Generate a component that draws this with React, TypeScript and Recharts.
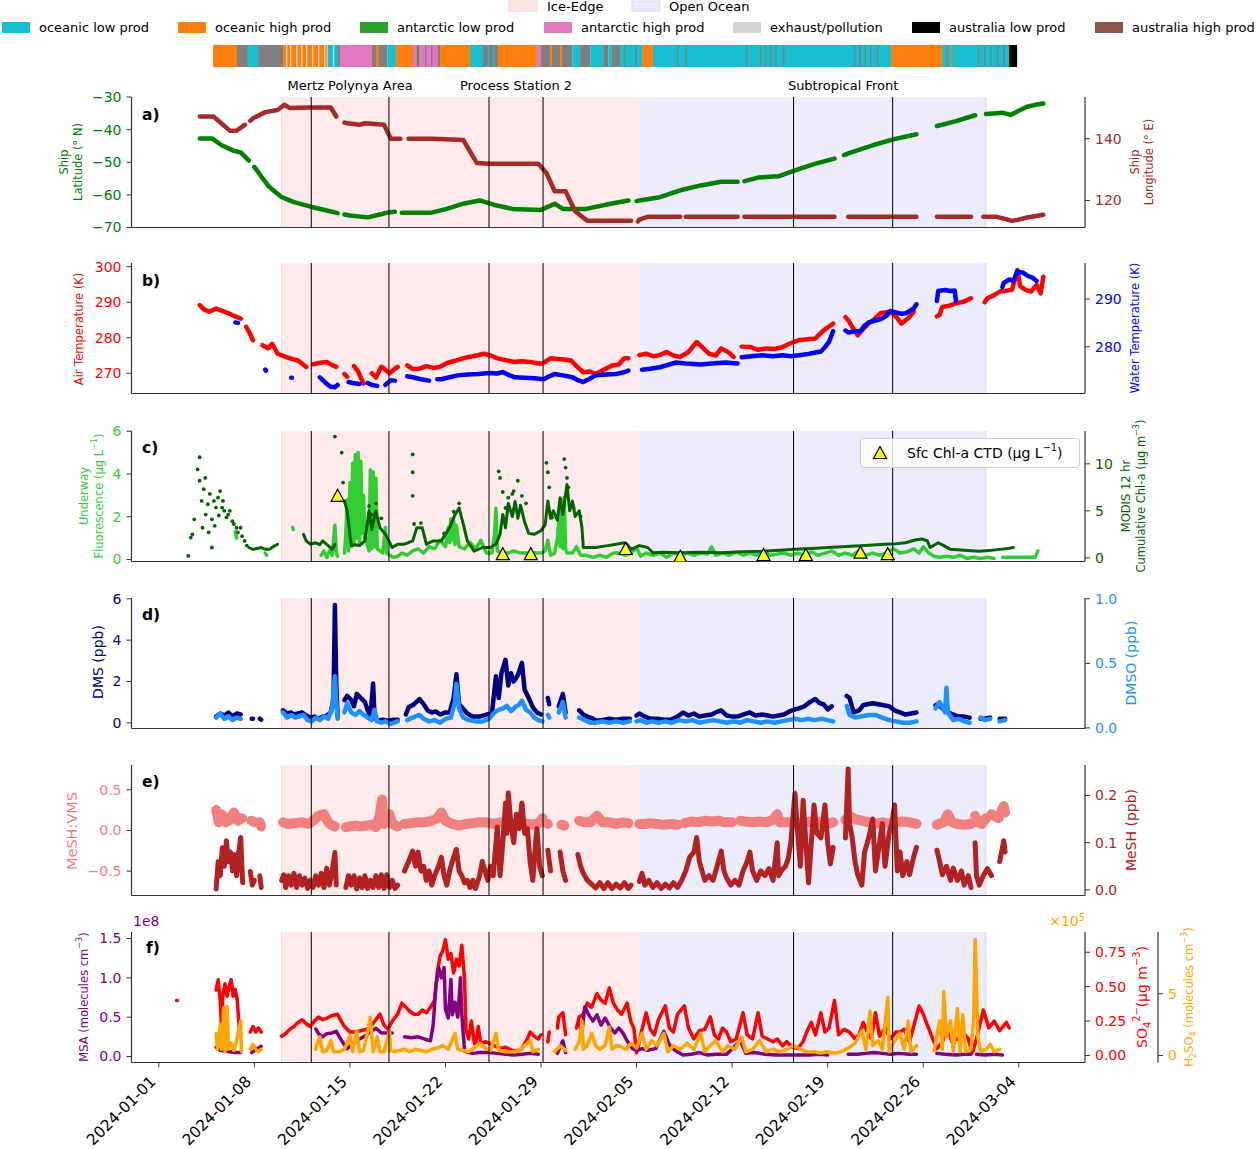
import { ComposedChart, Line, Scatter, XAxis, YAxis, ReferenceArea, ReferenceLine } from "recharts";

const FONT = "'DejaVu Sans', sans-serif";
const W = 1259;
const H = 1149;
const SPINE = "#333333";

// x values are days since 2024-01-01
const X_DOMAIN: [number, number] = [-2.0, 67.85];
const DATE_TICKS = [0, 7, 14, 21, 28, 35, 42, 49, 56, 63];
const DATE_LABELS = ["2024-01-01", "2024-01-08", "2024-01-15", "2024-01-22", "2024-01-29", "2024-02-05", "2024-02-12", "2024-02-19", "2024-02-26", "2024-03-04"];

const ICE_EDGE: [number, number] = [8.98, 35.18];
const OPEN_OCEAN: [number, number] = [35.18, 60.59];
const SECTION_LINES = [11.17, 16.86, 24.19, 28.15, 46.5, 53.76];
const SECTION_NAMES = ["Mertz Polynya Area", "Process Station 2", "Subtropical Front"];

const AIR_MASS = ["oceanic low prod", "oceanic high prod", "antarctic low prod", "antarctic high prod", "exhaust/pollution", "australia low prod", "australia high prod"];
const AIR_MASS_COLORS = ["#17becf", "#ff7f0e", "#2ca02c", "#e377c2", "#d3d3d3", "#000000", "#8c564b", "#7f7f7f"];

// air-mass strip: [start day, end day, category]
const STRIP: [number, number, number][] = [
  [3.97, 5.73, 1], [5.73, 6.53, 7], [6.53, 7.27, 0], [7.27, 9.1, 7], [9.1, 12.4, 1],
  [12.4, 13.13, 0], [13.13, 13.28, 7], [13.28, 15.62, 3], [15.62, 16.76, 7], [16.76, 17.38, 0],
  [17.38, 18.62, 1], [18.62, 20.45, 3], [20.45, 20.6, 7], [20.6, 22.8, 1], [22.8, 23.75, 0],
  [23.75, 24.85, 7], [24.85, 27.7, 1], [27.7, 28.0, 3], [28.0, 30.28, 7], [30.28, 30.86, 0],
  [30.86, 31.6, 7], [31.6, 32.55, 0], [32.55, 32.92, 7], [32.92, 33.2, 0], [33.2, 33.79, 7],
  [33.79, 35.4, 0], [35.4, 36.2, 1], [36.2, 53.64, 0], [53.64, 57.38, 1], [57.38, 62.29, 0],
  [62.29, 62.88, 5],
];
// thin stripes drawn over the strip
const STRIP_STRIPES: [number, number, number][] = [
  [9.32, 9.42, 4], [9.61, 9.71, 4], [10.05, 10.15, 4], [10.42, 10.52, 4], [10.78, 10.88, 4],
  [11.22, 11.32, 4], [11.66, 11.76, 4], [12.1, 12.2, 4], [12.3, 12.38, 4], [12.75, 12.85, 4],
  [15.9, 16.1, 1], [18.91, 19.05, 2], [19.5, 19.6, 7], [19.94, 20.04, 7], [24.1, 24.2, 0],
  [24.5, 24.6, 0], [28.65, 28.8, 1], [29.4, 29.55, 1], [34.1, 34.2, 7], [34.9, 35.0, 7],
  [37.96, 38.06, 7], [38.55, 38.65, 7], [43.02, 43.12, 7], [44.05, 44.15, 7], [44.4, 44.5, 7],
  [44.78, 44.88, 7], [45.15, 45.25, 7], [45.73, 45.83, 7], [50.94, 51.04, 7], [51.3, 51.4, 7],
  [51.7, 51.8, 7], [52.1, 52.2, 7], [52.6, 52.7, 7], [57.68, 57.78, 7], [57.97, 58.07, 1],
  [60.0, 60.1, 7], [60.45, 60.55, 7], [60.9, 61.0, 7], [61.4, 61.5, 7], [61.85, 61.95, 7],
];

type Pt = [number, number | null];

// a) ship position
const LAT: Pt[] = [[3.0,-42.7],[3.9,-42.7],[4.6,-44.8],[5.5,-46.5],[6.0,-47.0],[6.6,-49.5],[6.75,null],[7.0,-51.4],[7.5,-54.3],[8.1,-57.6],[9.0,-60.7],[9.9,-62.2],[11.2,-63.7],[12.3,-64.8],[13.1,-65.6],[13.3,null],[13.6,-66.0],[14.0,-66.3],[15.3,-66.9],[16.2,-66.0],[16.9,-65.3],[17.3,-65.2],[17.45,null],[17.8,-65.5],[19.9,-65.5],[21.1,-64.3],[22.3,-62.7],[23.5,-61.7],[24.7,-63.2],[25.9,-64.3],[28.0,-64.6],[29.0,-62.7],[29.6,-64.3],[31.3,-64.3],[33.1,-62.7],[34.4,-61.7],[34.6,null],[35.0,-61.9],[35.2,-61.7],[36.7,-60.7],[38.2,-58.6],[39.7,-57.1],[41.2,-56.0],[42.4,-56.0],[42.6,null],[42.9,-55.8],[43.9,-54.7],[45.4,-54.3],[46.6,-52.5],[48.1,-50.4],[49.5,-48.9],[49.7,null],[50.2,-47.8],[50.5,-47.3],[52.3,-44.8],[53.8,-43.0],[55.5,-41.4],[55.7,null],[57.0,-38.9],[58.4,-37.4],[59.8,-35.6],[60.0,null],[60.6,-35.2],[61.8,-34.8],[62.4,-35.5],[63.0,-34.2],[63.6,-33.0],[64.2,-32.4],[64.8,-32.0]];
const LON: Pt[] = [[3.0,147.2],[4.0,147.2],[5.2,142.6],[5.7,142.6],[6.3,144.5],[6.45,null],[6.7,145.8],[6.9,146.6],[7.8,148.6],[8.7,149.3],[9.2,151.0],[9.6,149.9],[11.1,150.1],[12.6,150.1],[13.0,147.2],[13.2,null],[13.6,145.2],[13.8,145.0],[14.7,144.5],[15.1,145.0],[16.5,144.5],[17.0,140.0],[17.7,140.0],[17.9,null],[18.3,140.0],[20.0,140.0],[22.3,139.6],[23.3,132.1],[24.2,131.9],[27.8,131.9],[28.4,128.9],[29.0,123.0],[29.8,123.0],[30.5,116.5],[31.4,113.4],[34.6,113.4],[34.8,null],[35.1,113.2],[35.2,113.8],[35.8,114.7],[38.2,114.7],[38.4,null],[38.6,114.7],[42.4,114.7],[42.6,null],[42.9,114.7],[49.5,114.7],[49.7,null],[50.5,114.7],[55.5,114.7],[55.7,null],[57.0,114.7],[59.5,114.7],[59.7,null],[60.4,114.7],[61.4,114.7],[62.0,114.0],[62.5,113.4],[63.0,113.8],[63.6,114.5],[64.8,115.4]];

// b) temperatures (K)
const AIR_T: Pt[] = [[3.0,289.2],[3.3,288.0],[3.7,287.3],[4.2,288.2],[4.7,287.5],[5.1,286.9],[5.6,286.0],[6.0,285.4],[6.2,null],[6.4,283.1],[6.7,281.0],[6.9,279.3],[7.1,null],[7.6,277.9],[8.0,277.0],[8.3,278.3],[8.7,275.5],[9.3,274.6],[9.8,274.0],[10.2,273.6],[10.8,271.8],[11.0,null],[11.3,272.5],[11.7,272.9],[12.3,273.2],[12.7,272.3],[13.0,271.8],[13.2,null],[13.6,269.8],[13.8,269.0],[14.0,null],[14.3,272.0],[14.6,270.5],[15.0,267.1],[15.2,null],[15.6,270.0],[15.9,268.8],[16.3,271.8],[16.6,271.0],[16.9,270.0],[17.2,271.0],[17.5,271.8],[17.7,null],[18.2,272.2],[18.6,271.2],[19.1,271.3],[19.6,272.0],[20.1,271.5],[20.6,271.8],[21.2,273.0],[21.8,273.6],[22.3,274.2],[22.7,274.6],[23.3,275.0],[23.8,275.5],[24.3,275.0],[24.8,274.2],[25.4,273.7],[26.0,273.2],[26.6,273.4],[27.2,273.2],[27.7,272.8],[28.1,272.7],[28.7,274.2],[29.2,274.0],[29.7,273.9],[30.2,273.6],[30.6,272.0],[31.1,270.3],[31.6,270.5],[32.0,269.8],[32.6,271.0],[33.2,272.2],[33.7,272.5],[34.1,274.2],[34.4,274.2],[34.7,null],[35.2,275.1],[35.7,275.5],[36.2,274.8],[36.7,275.1],[37.2,276.0],[37.7,275.0],[38.2,274.6],[38.8,276.0],[39.4,278.8],[39.9,277.0],[40.3,275.5],[40.8,275.0],[41.2,277.0],[41.7,276.0],[42.1,274.6],[42.4,null],[42.7,277.5],[43.3,277.4],[43.9,276.6],[44.5,277.0],[45.1,276.8],[45.7,277.4],[46.3,278.5],[46.9,279.3],[47.5,279.6],[48.1,279.8],[48.7,282.1],[49.4,284.0],[49.6,null],[50.3,285.8],[50.5,285.0],[50.8,283.0],[51.2,280.7],[51.6,282.5],[52.0,284.0],[52.5,285.5],[52.9,287.0],[53.6,287.3],[54.0,286.0],[54.4,284.0],[54.9,285.5],[55.3,287.3],[55.6,null],[57.0,286.0],[57.2,286.5],[57.4,288.7],[57.9,289.0],[58.3,289.6],[59.0,290.2],[59.5,291.1],[59.7,null],[60.5,290.0],[60.7,291.1],[61.2,292.0],[61.6,293.0],[62.0,293.2],[62.5,293.5],[62.9,299.1],[63.1,294.5],[63.5,293.5],[63.9,293.0],[64.3,294.9],[64.6,292.5],[64.8,297.2]];
const WATER_T: Pt[] = [[5.6,285.1],[5.8,285.0],[5.9,null],[7.8,275.2],[7.85,275.0],[7.9,null],[9.7,273.5],[9.75,273.5],[9.8,null],[11.8,273.6],[12.3,272.2],[12.6,271.6],[12.9,271.5],[13.1,272.0],[13.3,null],[13.9,272.6],[14.2,272.4],[14.7,272.2],[15.0,null],[15.3,272.4],[15.6,272.0],[16.0,271.8],[16.2,null],[16.6,272.0],[17.0,273.0],[17.3,272.9],[17.6,null],[18.2,273.8],[18.6,273.6],[19.2,273.2],[19.8,272.9],[20.2,null],[20.4,273.2],[20.7,273.2],[21.3,273.6],[21.9,274.0],[22.6,274.2],[23.4,274.3],[24.2,274.5],[24.8,274.4],[25.2,274.7],[25.7,274.0],[26.1,273.6],[26.8,273.5],[27.5,273.4],[28.2,273.2],[28.6,273.8],[29.0,274.3],[29.6,274.0],[30.3,273.6],[30.7,273.0],[31.1,272.6],[31.5,273.2],[32.0,274.0],[32.8,274.2],[33.5,274.3],[34.0,274.6],[34.4,275.0],[34.6,null],[35.4,275.2],[36.0,275.4],[36.7,275.7],[37.3,276.2],[37.9,276.7],[38.6,276.5],[39.7,276.3],[40.5,276.5],[41.5,276.7],[42.4,276.5],[42.55,null],[42.7,277.8],[43.4,278.0],[44.2,278.2],[45.0,278.0],[45.7,278.2],[46.3,278.0],[46.9,278.2],[47.6,278.5],[48.1,278.8],[48.5,279.0],[48.8,279.9],[49.1,281.0],[49.4,283.3],[49.6,null],[50.3,283.4],[50.5,283.0],[51.0,283.2],[51.4,283.3],[51.7,284.4],[52.0,285.1],[52.5,285.5],[52.9,285.8],[53.3,286.5],[53.6,287.5],[54.0,287.2],[54.4,286.9],[54.7,287.0],[55.0,287.5],[55.3,288.0],[55.5,288.9],[55.6,null],[57.0,289.6],[57.1,291.7],[57.6,291.9],[58.0,291.7],[58.3,291.8],[58.4,289.6],[58.6,null],[61.8,292.5],[61.9,293.4],[62.3,294.1],[62.6,293.8],[62.9,295.8],[63.3,295.5],[63.7,294.8],[64.0,294.5],[64.3,293.8]];

// c) chlorophyll
const UNDERWAY_FLUOR: Pt[] = [[5.6,1.3],[5.7,1.0],[5.75,null],[7.8,0.3],[7.9,0.2],[7.95,null],[9.8,1.5],[9.85,1.4],[9.9,null],[11.9,0.2],[12.1,0.4],[12.3,0.1],[12.5,0.4],[12.7,0.2],[12.9,1.6],[13.0,0.3],[13.1,0.15],[13.2,null],[13.6,0.3],[13.7,1.2],[13.8,2.8],[13.9,0.4],[14.0,3.6],[14.1,0.6],[14.2,4.5],[14.3,0.8],[14.4,4.9],[14.5,1.0],[14.6,5.0],[14.7,0.7],[14.8,4.6],[14.9,1.2],[15.0,3.0],[15.1,0.9],[15.2,1.0],[15.3,0.6],[15.4,0.4],[15.5,4.2],[15.6,0.5],[15.7,4.1],[15.8,0.6],[15.9,3.8],[16.0,0.5],[16.2,0.4],[16.4,0.3],[16.6,1.5],[16.7,0.3],[16.9,0.2],[17.2,0.1],[17.5,0.15],[17.8,0.3],[18.2,0.2],[18.6,0.4],[19.0,0.5],[19.4,0.3],[19.8,0.6],[20.2,0.5],[20.6,0.9],[21.0,0.6],[21.2,1.5],[21.3,0.8],[21.4,1.9],[21.5,0.9],[21.6,1.8],[21.7,0.7],[21.8,1.6],[22.0,0.6],[22.4,0.5],[22.8,0.8],[23.2,0.5],[23.6,0.9],[24.0,0.3],[24.4,0.3],[24.6,1.2],[24.7,2.4],[24.8,0.4],[25.2,0.3],[25.6,0.3],[26.0,0.4],[26.5,0.3],[27.0,0.3],[27.5,0.3],[28.0,0.3],[28.3,0.4],[28.5,0.9],[28.7,0.2],[29.0,0.3],[29.2,1.0],[29.3,1.8],[29.4,0.6],[29.5,2.8],[29.6,0.5],[29.7,2.9],[29.8,0.5],[29.9,0.3],[30.3,0.3],[30.6,0.6],[30.9,0.2],[31.3,0.2],[31.8,0.1],[32.3,0.2],[32.8,0.1],[33.3,0.3],[33.7,0.3],[34.2,0.2],[34.6,0.3],[35.0,0.55],[35.3,0.15],[35.7,0.3],[36.2,0.2],[36.7,0.3],[37.2,0.1],[37.7,0.3],[38.2,0.2],[38.7,0.3],[39.2,0.2],[39.7,0.3],[40.2,0.25],[40.5,0.6],[40.8,0.2],[41.3,0.3],[41.8,0.2],[42.3,0.35],[42.8,0.2],[43.3,0.3],[43.8,0.2],[44.3,0.3],[44.8,0.2],[45.3,0.25],[45.8,0.3],[46.3,0.2],[46.8,0.3],[47.3,0.2],[47.8,0.35],[48.3,0.2],[48.8,0.3],[49.3,0.4],[49.8,0.2],[50.3,0.3],[50.8,0.2],[51.3,0.4],[51.8,0.2],[52.3,0.3],[52.8,0.2],[53.3,0.3],[53.8,0.5],[54.3,0.3],[54.8,0.35],[55.3,0.5],[55.7,0.3],[56.0,0.6],[56.4,0.3],[56.8,0.15],[57.2,0.1],[57.7,0.15],[58.2,0.1],[58.7,0.2],[59.2,0.05],[59.7,0.1],[60.2,0.05],[60.7,0.1],[61.2,0.05],[61.4,null],[61.8,0.1],[62.4,0.1],[63.0,0.1],[63.6,0.1],[64.2,0.1],[64.4,0.4]];
const MODIS_CHL: Pt[] = [[6.6,1.1],[6.9,0.9],[7.2,1.0],[7.5,1.1],[7.8,0.9],[8.1,0.9],[8.4,1.2],[8.7,1.45],[8.8,null],[10.6,2.5],[10.8,1.8],[11.1,1.45],[11.5,1.6],[11.8,1.4],[12.0,1.8],[12.4,1.3],[12.7,0.9],[12.9,1.4],[13.1,null],[13.6,6.05],[13.8,5.0],[14.1,1.3],[14.4,1.4],[14.7,1.3],[15.1,1.8],[15.4,5.0],[15.6,3.0],[15.9,5.0],[16.2,3.2],[16.6,2.5],[17.1,1.1],[17.5,1.45],[18.0,1.45],[18.6,1.8],[18.9,3.2],[19.3,3.2],[19.6,1.45],[20.1,1.8],[20.7,1.8],[21.3,3.2],[21.7,4.6],[22.0,5.3],[22.3,3.6],[22.6,1.8],[23.1,0.7],[23.7,1.1],[24.3,1.1],[24.7,1.45],[25.0,2.5],[25.2,4.6],[25.4,3.2],[25.6,5.8],[25.9,4.4],[26.1,6.0],[26.3,4.2],[26.5,5.6],[26.8,3.8],[27.1,2.6],[27.5,2.5],[28.0,2.9],[28.3,3.5],[28.5,6.05],[28.7,4.2],[28.9,5.0],[29.2,4.0],[29.4,6.4],[29.6,4.6],[29.9,7.8],[30.1,5.0],[30.3,6.05],[30.5,4.4],[30.8,5.0],[31.0,3.2],[31.1,1.1],[32.0,1.1],[32.9,1.3],[33.5,1.45],[34.1,1.6],[34.3,1.45],[34.6,0.9],[35.2,1.3],[35.8,1.1],[36.2,0.55],[37.0,0.6],[38.2,0.55],[39.5,0.6],[41.2,0.55],[42.7,0.65],[44.2,0.7],[45.5,0.8],[46.6,0.9],[47.8,1.0],[49.0,1.1],[50.4,1.2],[51.7,1.3],[53.2,1.45],[54.0,1.5],[54.7,1.6],[55.4,1.9],[55.9,2.0],[56.3,1.8],[56.5,1.1],[57.1,1.6],[57.5,1.3],[58.0,0.9],[59.0,0.8],[60.1,0.7],[61.0,0.8],[61.6,0.9],[62.2,1.0],[62.6,1.1]];
const MODIS_SPARSE: Pt[] = [[2.16,0.2],[2.34,2.15],[2.46,2.5],[2.6,4.1],[2.84,9.4],[2.99,10.7],[2.99,8.2],[3.14,6.05],[3.2,3.2],[3.29,7.3],[3.4,8.5],[3.44,4.6],[3.59,5.7],[3.65,2.7],[3.74,6.8],[3.89,1.1],[3.89,4.1],[4.04,6.05],[4.1,3.4],[4.19,5.35],[4.34,6.4],[4.4,4.5],[4.49,7.1],[4.64,5.35],[4.7,6.05],[4.79,5.0],[4.95,4.3],[5.09,4.6],[5.2,5.0],[5.39,3.9],[5.5,3.6],[5.69,3.2],[5.8,2.7],[5.99,3.2],[6.1,2.3],[6.29,1.8],[6.45,1.3],[12.9,12.9],[13.4,11.2],[13.5,8.0],[15.4,5.5],[15.6,4.6],[15.9,5.8],[16.3,4.2],[18.6,11.0],[18.6,9.1],[18.6,6.6],[18.7,3.6],[19.2,3.7],[20.9,2.6],[21.6,4.9],[22.0,5.8],[24.9,9.2],[25.0,8.5],[25.2,7.0],[25.4,5.3],[25.6,6.4],[25.9,6.8],[26.0,7.1],[26.3,8.2],[26.6,6.6],[26.9,5.8],[28.4,10.1],[28.5,9.1],[28.6,7.5],[28.8,4.3],[29.7,10.5],[29.8,9.6],[29.9,8.5],[30.0,7.5],[30.4,5.3],[30.9,4.4]];
const CTD_CHL: Pt[] = [[13.1,2.98],[25.2,0.25],[27.25,0.25],[34.2,0.49],[38.2,0.13],[44.3,0.21],[47.4,0.21],[51.4,0.32],[53.4,0.25]];

// d) DMS / DMSO (ppb)
const DMS: Pt[] = [[4.2,0.3],[4.5,0.45],[4.8,0.35],[5.1,0.5],[5.4,0.3],[5.7,0.45],[6.0,0.4],[6.1,null],[6.8,0.2],[6.9,0.2],[7.0,null],[7.4,0.2],[7.5,0.15],[7.6,null],[9.1,0.6],[9.4,0.45],[9.7,0.5],[9.9,0.4],[10.2,0.45],[10.5,0.5],[10.8,0.35],[11.1,0.25],[11.4,0.3],[11.7,0.2],[12.0,0.3],[12.3,0.35],[12.6,0.5],[12.8,1.2],[12.9,5.7],[13.0,1.9],[13.1,0.3],[13.3,null],[13.6,1.1],[13.8,1.3],[14.1,1.1],[14.3,0.8],[14.5,1.4],[14.8,1.2],[15.1,1.0],[15.3,0.6],[15.5,0.3],[15.7,1.9],[15.8,0.3],[16.0,0.1],[16.4,0.15],[16.8,0.1],[17.2,0.15],[17.5,0.15],[17.7,null],[18.1,0.4],[18.3,0.75],[18.7,0.9],[19.1,1.15],[19.4,0.9],[19.7,0.6],[20.0,0.5],[20.3,0.55],[20.6,0.4],[21.0,0.5],[21.3,0.5],[21.6,1.2],[21.8,2.35],[22.0,0.9],[22.2,0.75],[22.6,0.45],[23.0,0.3],[23.5,0.3],[24.0,0.4],[24.4,0.45],[24.7,2.25],[24.9,1.2],[25.1,2.4],[25.4,3.05],[25.6,1.8],[25.8,2.4],[26.0,2.0],[26.3,2.3],[26.6,2.9],[26.8,1.6],[27.1,1.2],[27.4,0.75],[27.7,0.5],[28.0,0.4],[28.2,null],[28.5,1.2],[28.6,0.9],[28.7,null],[29.3,0.8],[29.6,1.4],[29.8,0.5],[29.9,null],[30.8,0.6],[31.1,0.4],[31.4,0.3],[31.8,0.2],[32.1,0.1],[32.6,0.15],[33.0,0.2],[33.5,0.15],[34.0,0.2],[34.5,0.2],[34.7,null],[35.0,0.35],[35.2,0.45],[35.6,0.3],[36.0,0.2],[36.5,0.2],[37.0,0.15],[37.5,0.15],[38.0,0.3],[38.4,0.5],[38.8,0.35],[39.2,0.45],[39.6,0.3],[40.0,0.35],[40.5,0.4],[40.8,0.5],[41.2,0.6],[41.6,0.35],[42.0,0.3],[42.4,0.3],[42.8,0.4],[43.3,0.5],[43.7,0.35],[44.2,0.4],[44.6,0.35],[45.0,0.3],[45.4,0.35],[45.8,0.4],[46.2,0.55],[46.6,0.65],[46.9,0.7],[47.3,0.8],[47.7,1.0],[48.1,1.15],[48.4,0.95],[48.7,0.9],[49.0,0.65],[49.3,0.8],[49.5,null],[50.4,1.3],[50.6,1.2],[50.9,0.5],[51.3,0.6],[51.6,0.85],[51.9,0.9],[52.3,0.95],[52.7,0.9],[53.1,0.85],[53.5,0.8],[53.9,0.6],[54.3,0.5],[54.7,0.4],[55.1,0.45],[55.5,0.5],[55.6,null],[56.9,0.85],[57.1,0.9],[57.4,0.7],[57.8,0.5],[58.2,0.4],[58.6,0.3],[59.0,0.3],[59.4,0.25],[59.6,null],[60.2,0.2],[60.5,0.2],[60.9,0.25],[61.1,null],[61.6,0.2],[62.0,0.2]];
const DMSO: Pt[] = [[4.2,0.08],[4.5,0.11],[4.8,0.07],[5.1,0.09],[5.4,0.06],[5.7,0.08],[6.0,0.07],[6.1,null],[9.1,0.12],[9.4,0.08],[9.7,0.1],[10.0,0.08],[10.3,0.09],[10.6,0.1],[10.9,0.06],[11.2,0.05],[11.5,0.08],[11.8,0.06],[12.1,0.09],[12.4,0.07],[12.7,0.15],[12.9,0.4],[13.0,0.2],[13.1,0.07],[13.3,null],[13.6,0.12],[13.8,0.19],[14.1,0.12],[14.4,0.1],[14.7,0.13],[15.0,0.1],[15.3,0.08],[15.6,0.06],[15.8,0.14],[16.0,0.05],[16.3,0.04],[16.6,0.05],[17.0,0.03],[17.5,0.05],[17.7,null],[18.2,0.06],[18.6,0.08],[19.1,0.1],[19.4,0.07],[19.8,0.05],[20.2,0.06],[20.6,0.04],[21.0,0.07],[21.4,0.08],[21.7,0.2],[21.8,0.34],[22.0,0.15],[22.3,0.08],[22.7,0.06],[23.2,0.05],[23.7,0.05],[24.2,0.07],[24.6,0.12],[24.9,0.14],[25.2,0.15],[25.5,0.17],[25.8,0.13],[26.1,0.16],[26.4,0.18],[26.6,0.21],[26.9,0.14],[27.2,0.12],[27.5,0.08],[27.8,0.06],[28.1,0.05],[28.2,null],[28.5,0.1],[28.6,0.08],[28.7,null],[29.3,0.12],[29.6,0.2],[29.8,0.08],[29.9,null],[30.8,0.08],[31.2,0.06],[31.6,0.04],[32.0,0.04],[32.5,0.05],[33.0,0.04],[33.5,0.05],[34.0,0.04],[34.5,0.05],[34.7,null],[35.0,0.05],[35.3,0.06],[35.7,0.04],[36.1,0.05],[36.6,0.04],[37.1,0.05],[37.6,0.04],[38.1,0.06],[38.6,0.05],[39.1,0.06],[39.6,0.04],[40.1,0.05],[40.6,0.06],[41.1,0.05],[41.6,0.04],[42.1,0.05],[42.6,0.04],[43.1,0.06],[43.6,0.05],[44.1,0.04],[44.6,0.05],[45.1,0.04],[45.6,0.05],[46.1,0.06],[46.6,0.07],[47.1,0.06],[47.6,0.07],[48.0,0.06],[48.6,0.07],[49.0,0.06],[49.4,0.05],[49.5,null],[50.4,0.17],[50.6,0.1],[51.0,0.08],[51.5,0.09],[52.0,0.1],[52.5,0.1],[53.0,0.08],[53.5,0.06],[54.0,0.05],[54.5,0.04],[55.0,0.04],[55.5,0.05],[55.6,null],[56.9,0.15],[57.2,0.2],[57.6,0.12],[57.7,0.31],[57.8,0.12],[58.2,0.06],[58.6,0.07],[59.0,0.05],[59.4,0.04],[59.6,null],[60.2,0.08],[60.5,0.06],[60.9,0.07],[61.1,null],[61.6,0.05],[62.0,0.06]];

// e) MeSH:VMS ratio and MeSH (ppb)
const MESH_VMS: Pt[] = [[4.2,0.25],[4.4,0.1],[4.6,0.2],[4.9,0.1],[5.2,0.13],[5.5,0.22],[5.8,0.12],[6.1,0.15],[6.2,null],[6.8,0.12],[7.0,0.1],[7.1,null],[7.4,0.1],[7.5,0.05],[7.6,null],[9.1,0.1],[9.5,0.08],[10.0,0.09],[10.5,0.1],[11.0,0.08],[11.3,0.12],[11.7,0.18],[12.1,0.2],[12.4,0.1],[12.7,0.06],[12.9,0.05],[13.1,null],[13.7,0.04],[14.0,0.05],[14.4,0.06],[14.8,0.05],[15.2,0.06],[15.6,0.07],[15.9,0.04],[16.2,0.2],[16.35,0.38],[16.5,0.08],[16.7,0.1],[16.9,0.2],[17.1,0.08],[17.5,0.05],[17.7,null],[18.0,0.08],[18.5,0.09],[19.0,0.1],[19.5,0.1],[20.0,0.12],[20.4,0.15],[20.7,0.22],[21.0,0.12],[21.5,0.08],[22.0,0.06],[22.5,0.08],[23.0,0.09],[23.5,0.1],[24.0,0.1],[24.5,0.08],[25.0,0.1],[25.5,0.09],[26.0,0.08],[26.5,0.1],[27.0,0.08],[27.5,0.07],[28.0,0.1],[28.1,0.15],[28.3,null],[28.5,0.08],[28.6,null],[29.5,0.07],[29.7,0.06],[29.8,null],[30.8,0.12],[31.2,0.1],[31.6,0.1],[32.1,0.18],[32.5,0.1],[33.0,0.1],[33.5,0.08],[34.0,0.1],[34.4,0.09],[34.6,null],[35.2,0.08],[35.6,0.08],[36.0,0.09],[36.5,0.08],[37.0,0.07],[37.5,0.08],[38.0,0.07],[38.2,null],[38.5,0.09],[39.0,0.11],[39.5,0.1],[40.0,0.12],[40.5,0.11],[41.0,0.12],[41.5,0.1],[42.0,0.1],[42.2,null],[42.6,0.12],[43.0,0.11],[43.5,0.1],[44.0,0.11],[44.5,0.1],[45.0,0.13],[45.3,0.2],[45.5,0.1],[46.0,0.1],[46.5,0.1],[47.0,0.09],[47.5,0.1],[48.0,0.11],[48.5,0.1],[49.0,0.08],[49.4,0.1],[49.6,null],[50.3,0.13],[50.6,0.18],[51.0,0.14],[51.5,0.12],[52.0,0.1],[52.5,0.08],[53.0,0.1],[53.5,0.08],[54.0,0.1],[54.5,0.11],[55.0,0.1],[55.5,0.08],[55.6,null],[57.0,0.07],[57.5,0.1],[57.8,0.2],[58.1,0.1],[58.5,0.08],[59.0,0.07],[59.5,0.08],[59.6,null],[59.8,0.18],[60.0,0.1],[60.3,0.08],[60.6,0.15],[60.7,null],[61.0,0.2],[61.5,0.15],[61.9,0.3],[62.0,0.22]];
const MESH: Pt[] = [[4.2,0.002],[4.35,0.06],[4.5,0.03],[4.65,0.089],[4.8,0.05],[4.95,0.104],[5.1,0.06],[5.25,0.08],[5.4,0.04],[5.55,0.075],[5.7,0.03],[5.85,0.08],[6.0,0.111],[6.1,0.04],[6.15,0.015],[6.2,null],[6.7,0.039],[6.85,0.01],[7.0,0.02],[7.1,null],[7.4,0.03],[7.5,0.005],[7.6,null],[9.0,0.02],[9.15,0.032],[9.3,0.005],[9.5,0.03],[9.7,0.01],[9.9,0.035],[10.1,0.005],[10.3,0.03],[10.5,0.01],[10.7,0.025],[10.9,0.003],[11.1,0.02],[11.3,0.005],[11.5,0.03],[11.7,0.01],[11.9,0.035],[12.1,0.005],[12.3,0.046],[12.5,0.01],[12.7,0.04],[12.9,0.079],[13.0,0.01],[13.1,null],[13.7,0.005],[13.9,0.03],[14.1,0.01],[14.3,0.03],[14.5,0.002],[14.7,0.025],[14.9,0.005],[15.1,0.03],[15.3,0.003],[15.5,0.02],[15.7,0.005],[15.9,0.03],[16.1,0.005],[16.3,0.032],[16.5,0.003],[16.7,0.032],[16.9,0.005],[17.1,0.02],[17.3,0.003],[17.5,0.01],[17.7,null],[18.0,0.04],[18.3,0.06],[18.6,0.082],[18.8,0.05],[19.0,0.08],[19.2,0.04],[19.4,0.05],[19.6,0.02],[19.8,0.04],[20.0,0.01],[20.2,0.03],[20.5,0.05],[20.7,0.069],[20.9,0.03],[21.1,0.01],[21.3,0.04],[21.5,0.06],[21.8,0.086],[22.0,0.04],[22.2,0.03],[22.4,0.015],[22.6,0.02],[22.8,0.005],[23.0,0.02],[23.2,0.003],[23.5,0.03],[23.7,0.06],[23.9,0.04],[24.1,0.02],[24.3,0.05],[24.5,0.03],[24.7,0.1],[24.8,0.133],[25.0,0.03],[25.2,0.1],[25.4,0.184],[25.5,0.12],[25.6,0.205],[25.8,0.14],[26.0,0.1],[26.2,0.16],[26.4,0.13],[26.6,0.184],[26.8,0.12],[27.0,0.13],[27.2,0.06],[27.4,0.02],[27.6,0.1],[27.7,0.13],[27.9,0.05],[28.1,0.03],[28.2,null],[28.5,0.084],[28.7,0.04],[28.8,null],[29.4,0.08],[29.6,0.04],[29.8,0.02],[29.9,null],[30.7,0.075],[30.9,0.05],[31.1,0.035],[31.4,0.02],[31.7,0.012],[32.0,0.004],[32.3,0.015],[32.6,0.003],[32.9,0.015],[33.2,0.003],[33.5,0.012],[33.8,0.004],[34.1,0.015],[34.4,0.003],[34.6,0.01],[34.7,null],[35.2,0.018],[35.4,0.035],[35.6,0.01],[35.9,0.02],[36.2,0.005],[36.5,0.015],[36.8,0.003],[37.1,0.012],[37.4,0.004],[37.7,0.015],[38.0,0.005],[38.3,0.02],[38.6,0.04],[38.9,0.07],[39.2,0.08],[39.4,0.111],[39.6,0.06],[39.8,0.04],[40.0,0.02],[40.3,0.03],[40.6,0.02],[40.9,0.05],[41.2,0.082],[41.4,0.04],[41.6,0.025],[41.9,0.01],[42.2,0.02],[42.5,0.01],[42.8,0.04],[43.1,0.06],[43.3,0.08],[43.5,0.04],[43.8,0.02],[44.1,0.04],[44.4,0.03],[44.7,0.045],[45.0,0.02],[45.3,0.1],[45.4,0.03],[45.6,0.04],[45.9,0.05],[46.1,0.065],[46.3,0.1],[46.6,0.205],[46.8,0.12],[47.0,0.05],[47.2,0.19],[47.4,0.1],[47.6,0.015],[47.8,0.1],[48.0,0.18],[48.2,0.12],[48.5,0.11],[48.8,0.18],[49.0,0.1],[49.2,0.055],[49.4,0.09],[49.5,null],[50.3,0.11],[50.5,0.256],[50.6,0.14],[50.8,0.11],[51.0,0.06],[51.2,0.032],[51.5,0.01],[51.7,0.08],[52.0,0.11],[52.3,0.15],[52.5,0.04],[52.8,0.1],[53.0,0.14],[53.2,0.05],[53.5,0.12],[53.7,0.14],[53.9,0.18],[54.1,0.04],[54.3,0.08],[54.5,0.03],[54.8,0.06],[55.0,0.032],[55.3,0.07],[55.5,0.09],[55.6,null],[57.0,0.084],[57.2,0.06],[57.4,0.032],[57.7,0.05],[58.0,0.02],[58.2,0.046],[58.5,0.02],[58.8,0.04],[59.0,0.01],[59.3,0.03],[59.5,0.005],[59.6,null],[59.8,0.1],[59.9,0.03],[60.1,0.01],[60.4,0.03],[60.7,0.045],[61.0,0.03],[61.3,null],[61.6,0.06],[61.9,0.104],[62.0,0.08]];

// f) MSA (1e8 molecules cm-3), SO4 (ug m-3), H2SO4 (1e5 molecules cm-3)
const SO4: Pt[] = [[1.3,0.4],[1.36,0.4],[1.4,null],[4.2,0.476],[4.35,0.55],[4.5,0.4],[4.6,0.19],[4.7,0.45],[4.85,0.52],[5.0,0.43],[5.15,0.5],[5.3,0.55],[5.45,0.43],[5.6,0.48],[5.75,0.4],[5.9,0.19],[6.0,0.2],[6.1,null],[6.7,0.17],[6.9,0.21],[7.1,0.17],[7.3,0.2],[7.5,0.17],[7.6,null],[9.0,0.14],[9.3,0.16],[9.6,0.19],[9.9,0.21],[10.2,0.24],[10.5,0.26],[10.8,0.23],[11.1,0.21],[11.4,0.25],[11.7,0.28],[12.0,0.26],[12.3,0.27],[12.7,0.29],[13.1,0.3],[13.3,0.26],[13.6,0.21],[14.0,0.17],[14.4,0.17],[14.8,0.18],[15.2,0.19],[15.6,0.22],[15.9,0.26],[16.2,0.3],[16.5,0.22],[16.8,0.19],[17.1,0.25],[17.5,0.3],[17.8,0.38],[18.1,0.35],[18.4,0.32],[18.7,0.3],[19.0,0.3],[19.3,0.33],[19.6,0.31],[19.9,0.35],[20.2,0.4],[20.4,0.6],[20.6,0.72],[20.8,0.76],[21.0,0.84],[21.2,0.7],[21.4,0.74],[21.6,0.6],[21.8,0.7],[22.0,0.65],[22.2,0.8],[22.4,0.55],[22.5,0.19],[22.7,0.12],[22.9,0.25],[23.1,0.1],[23.2,0.07],[23.4,0.21],[23.6,0.08],[23.9,0.1],[24.2,0.09],[24.6,0.07],[25.0,0.05],[25.4,0.06],[25.8,0.04],[26.2,0.03],[26.6,0.05],[27.0,0.12],[27.2,0.17],[27.5,0.14],[27.8,0.12],[28.0,0.15],[28.1,null],[28.5,0.1],[28.6,0.17],[28.7,null],[29.2,0.2],[29.3,0.28],[29.6,0.31],[29.8,0.15],[29.9,null],[30.6,0.2],[30.8,0.28],[31.1,0.3],[31.4,0.38],[31.7,0.35],[32.1,0.45],[32.4,0.4],[32.7,0.38],[33.0,0.49],[33.3,0.38],[33.6,0.33],[33.9,0.3],[34.3,0.38],[34.6,0.24],[34.8,0.2],[35.0,0.02],[35.2,0.1],[35.4,0.19],[35.7,0.31],[36.0,0.19],[36.3,0.15],[36.6,0.26],[37.1,0.36],[37.4,0.2],[37.7,0.17],[38.0,0.3],[38.5,0.36],[38.8,0.2],[39.2,0.12],[39.6,0.18],[40.0,0.19],[40.4,0.28],[40.7,0.15],[41.0,0.12],[41.3,0.2],[41.6,0.17],[41.9,0.1],[42.3,0.12],[42.8,0.31],[43.1,0.15],[43.5,0.12],[43.9,0.31],[44.2,0.14],[44.6,0.12],[45.0,0.1],[45.3,0.12],[45.7,0.07],[46.0,0.1],[46.4,0.06],[46.8,0.05],[47.2,0.1],[47.5,0.18],[47.8,0.24],[48.1,0.15],[48.5,0.31],[48.8,0.17],[49.1,0.2],[49.5,0.4],[49.8,0.15],[50.2,0.19],[50.6,0.17],[51.0,0.12],[51.3,0.15],[51.6,0.24],[51.9,0.17],[52.2,0.12],[52.5,0.31],[52.8,0.14],[53.2,0.2],[53.6,0.12],[54.0,0.17],[54.3,0.17],[54.6,0.19],[55.0,0.1],[55.4,0.25],[55.7,0.36],[56.0,0.3],[56.3,0.22],[56.7,0.12],[57.0,0.05],[57.4,0.1],[57.8,0.19],[58.1,0.1],[58.5,0.12],[58.9,0.17],[59.3,0.12],[59.6,0.02],[59.9,0.12],[60.4,0.33],[60.8,0.2],[61.2,0.25],[61.6,0.18],[62.1,0.24],[62.3,0.2]];
const MSA: Pt[] = [[4.2,0.117],[4.5,0.08],[4.8,0.07],[5.2,0.06],[5.6,0.05],[6.0,0.05],[6.1,null],[6.8,0.05],[7.2,0.1],[7.5,0.13],[7.6,null],[11.5,0.35],[11.7,0.29],[12.0,0.25],[12.3,0.29],[12.7,0.3],[13.0,0.32],[13.4,0.2],[13.8,0.1],[14.1,0.15],[14.5,0.2],[15.0,0.25],[15.4,0.3],[15.9,0.36],[16.3,0.3],[16.7,0.3],[17.1,0.3],[17.4,null],[18.0,0.25],[18.5,0.24],[19.0,0.25],[19.5,0.22],[19.9,0.2],[20.1,0.4],[20.3,0.9],[20.5,1.13],[20.7,1.0],[20.9,1.13],[21.0,0.6],[21.2,0.49],[21.4,0.98],[21.5,0.53],[21.7,0.69],[21.9,0.5],[22.1,1.0],[22.2,0.53],[22.4,0.07],[22.7,0.05],[23.0,0.04],[23.5,0.05],[24.2,0.05],[24.8,0.04],[25.4,0.03],[26.0,0.02],[26.6,0.03],[27.2,0.04],[27.8,0.03],[28.1,null],[29.2,0.04],[29.6,0.2],[29.8,0.05],[29.9,null],[30.8,0.41],[31.0,0.3],[31.2,0.63],[31.5,0.53],[31.8,0.45],[32.1,0.53],[32.4,0.4],[32.7,0.49],[33.1,0.36],[33.4,0.3],[33.7,0.36],[34.0,0.3],[34.3,0.2],[34.7,0.1],[35.0,0.08],[35.4,0.1],[35.8,0.08],[36.4,0.1],[37.0,0.32],[37.4,0.15],[37.8,0.08],[38.4,0.02],[39.0,0.03],[39.6,0.05],[40.2,0.02],[40.8,0.03],[41.6,0.03],[42.6,0.2],[43.0,0.04],[43.6,0.05],[44.4,0.03],[45.2,0.02],[46.0,0.02],[46.8,0.02],[47.6,0.02],[48.4,0.03],[49.0,0.02],[49.5,null],[50.5,0.03],[51.2,0.03],[51.8,0.04],[52.4,0.05],[53.0,0.04],[53.6,0.03],[54.2,0.04],[55.0,0.03],[55.5,0.03],[55.6,null],[57.0,0.04],[57.6,0.03],[58.4,0.02],[59.0,0.03],[59.5,0.03],[59.6,null],[59.9,0.03],[60.5,0.02],[61.2,0.03],[61.8,0.02]];
const H2SO4: Pt[] = [[4.2,1.76],[4.3,0.5],[4.5,2.5],[4.6,0.5],[4.75,3.86],[4.85,0.3],[5.0,4.0],[5.1,0.5],[5.3,1.0],[5.5,0.4],[5.7,1.2],[6.0,2.8],[6.05,0.3],[6.1,null],[6.7,0.5],[6.9,0.9],[7.1,0.5],[7.3,0.3],[7.5,0.5],[7.6,null],[11.5,0.5],[11.6,0.93],[11.8,1.5],[12.0,0.3],[12.3,0.4],[12.6,1.2],[12.8,0.3],[13.2,0.3],[13.6,0.5],[14.0,1.6],[14.2,0.3],[14.5,2.0],[14.7,0.3],[15.0,0.4],[15.5,3.06],[15.7,0.3],[16.0,1.5],[16.2,0.3],[16.5,0.3],[16.9,2.0],[17.0,0.4],[17.3,0.3],[17.6,0.4],[18.0,0.5],[18.4,0.3],[18.8,0.5],[19.2,0.4],[19.6,0.3],[20.0,0.5],[20.4,0.6],[20.8,0.8],[21.2,0.5],[21.7,1.8],[21.9,0.5],[22.3,0.4],[22.7,0.3],[23.1,0.6],[23.5,1.0],[23.9,0.6],[24.3,0.4],[24.7,1.8],[24.9,0.4],[25.4,0.3],[25.8,0.3],[26.2,0.3],[26.6,0.6],[27.2,1.2],[27.4,0.3],[27.8,0.5],[28.1,null],[29.0,0.3],[29.4,0.8],[29.8,0.4],[29.9,null],[30.5,0.5],[30.8,1.1],[31.0,2.8],[31.1,0.5],[31.4,0.8],[31.7,1.8],[32.0,0.8],[32.3,0.5],[32.7,0.8],[33.0,2.3],[33.2,0.5],[33.5,0.8],[33.8,0.75],[34.2,0.5],[34.6,1.0],[35.0,0.6],[35.4,1.8],[35.7,0.5],[36.1,1.2],[36.5,0.8],[37.0,1.8],[37.3,0.3],[37.7,0.8],[38.2,0.5],[38.7,1.0],[39.2,0.5],[39.7,1.8],[40.0,0.3],[40.4,0.8],[40.8,1.2],[41.3,0.3],[41.7,0.8],[42.2,0.5],[42.7,1.5],[43.0,0.3],[43.5,0.5],[44.0,1.2],[44.5,0.3],[45.0,0.5],[45.5,0.3],[46.0,0.5],[46.5,0.8],[47.0,0.5],[47.5,0.3],[48.0,0.3],[48.5,0.2],[49.0,0.3],[49.5,0.2],[50.0,0.3],[50.5,0.6],[51.0,1.0],[51.5,2.0],[51.8,0.5],[52.1,3.6],[52.3,0.8],[52.7,1.2],[53.0,0.5],[53.4,4.7],[53.5,0.3],[53.8,1.0],[54.3,1.8],[54.6,0.5],[54.9,2.8],[55.1,0.3],[55.5,0.8],[55.6,null],[56.8,0.4],[57.2,2.8],[57.4,0.5],[57.5,5.2],[57.7,1.5],[58.0,2.8],[58.2,0.3],[58.5,3.8],[58.7,0.3],[58.9,3.3],[59.1,0.3],[59.5,0.5],[59.7,3.0],[59.8,9.4],[59.85,7.8],[59.9,5.4],[60.0,1.5],[60.2,0.3],[60.6,0.5],[60.9,0.9],[61.2,0.3],[61.6,0.5]];

// ---------- layout ----------
const PLOT_LEFT = 131.5;
const PLOT_RIGHT = 1085;
const RIGHT_W = W - PLOT_RIGHT;
const PAD = 12;
const LEGEND_X = [2, 178, 360, 544, 733, 912, 1095];
const xOf = (d: number) => PLOT_LEFT + ((d - X_DOMAIN[0]) / (X_DOMAIN[1] - X_DOMAIN[0])) * (PLOT_RIGHT - PLOT_LEFT);

const rows = (pts: Pt[]) => pts.map(([x, y]) => ({ x, y }));
const minus = (s: string) => s.replace("-", "\u2212");

function series(key: string, pts: Pt[], yId: string, color: string, width: number) {
  return (
    <Line key={key} data={rows(pts)} dataKey="y" yAxisId={yId} type="linear" stroke={color} strokeWidth={width}
      strokeLinecap="round" strokeLinejoin="round" dot={false} activeDot={false} connectNulls={false} isAnimationActive={false} />
  );
}

function backdrop(yId: string) {
  return [
    <ReferenceArea key="ice" yAxisId={yId} x1={ICE_EDGE[0]} x2={ICE_EDGE[1]} fill="#fdeaea" fillOpacity={1} stroke="none" />,
    <ReferenceArea key="ocean" yAxisId={yId} x1={OPEN_OCEAN[0]} x2={OPEN_OCEAN[1]} fill="#ececfc" fillOpacity={1} stroke="none" />,
    <ReferenceLine key="ie" yAxisId={yId} x={ICE_EDGE[0]} stroke="#f7d2d2" strokeWidth={1} />,
    <ReferenceLine key="oe" yAxisId={yId} x={OPEN_OCEAN[1]} stroke="#d8d8f6" strokeWidth={1} />,
  ];
}

function sections(yId: string) {
  return SECTION_LINES.map((d) => <ReferenceLine key={`sec${d}`} yAxisId={yId} x={d} stroke="#000" strokeWidth={1} />);
}

function DateTick(props: any) {
  const { x, y, payload } = props;
  const label = DATE_LABELS[DATE_TICKS.indexOf(payload.value)];
  return (
    <text transform={`translate(${x - 2},${y + 13}) rotate(-45)`} textAnchor="end" fontSize={15.5} fill="#000">{label}</text>
  );
}

function yAxis(id: string, side: "left" | "right", width: number, domain: [number, number], ticks: number[], color: string, fmt: (v: number) => string) {
  return (
    <YAxis key={id} yAxisId={id} orientation={side} width={width} type="number" domain={domain} allowDataOverflow ticks={ticks}
      interval={0} tickSize={5} tickMargin={5} tick={{ fill: color, fontSize: 14 }} tickFormatter={fmt}
      axisLine={{ stroke: SPINE, strokeWidth: 1.2 }} tickLine={{ stroke: SPINE, strokeWidth: 1 }} />
  );
}

function Panel({ top, height, dates, children }: { top: number; height: number; dates?: boolean; children: any }) {
  const axisH = dates ? 100 : PAD;
  return (
    <div style={{ position: "absolute", left: 0, top: top - PAD }}>
      <ComposedChart width={W} height={height + PAD + axisH} margin={{ top: PAD, right: 0, bottom: 0, left: 0 }}>
        <XAxis dataKey="x" type="number" domain={X_DOMAIN} allowDataOverflow ticks={DATE_TICKS} interval={0} tickSize={5}
          height={axisH} tick={dates ? DateTick : false} axisLine={{ stroke: SPINE, strokeWidth: 1.2 }} tickLine={{ stroke: SPINE, strokeWidth: 1 }} />
        <XAxis xAxisId="top" orientation="top" dataKey="x" type="number" domain={X_DOMAIN} allowDataOverflow height={0}
          tick={false} tickLine={false} axisLine={{ stroke: SPINE, strokeWidth: 1.2 }} />
        {children}
      </ComposedChart>
    </div>
  );
}

const f0 = (v: number) => minus(String(v));
const f1 = (v: number) => minus(v.toFixed(1));
const f2 = (v: number) => v.toFixed(2);

function VText({ x, y, color, size, children }: { x: number; y: number; color: string; size: number; children: any }) {
  return (
    <text x={x} y={y} transform={`rotate(-90 ${x} ${y})`} textAnchor="middle" dominantBaseline="central" fill={color} fontSize={size}>{children}</text>
  );
}

const sup = (s: string, size: number) => <tspan baselineShift="super" fontSize={size * 0.7}>{s}</tspan>;
const sub = (s: string, size: number) => <tspan baselineShift="sub" fontSize={size * 0.7}>{s}</tspan>;

function Overlay() {
  const letters: [string, number, number][] = [["a)", 142, 115], ["b)", 142, 281], ["c)", 142, 448], ["d)", 142, 615], ["e)", 142, 782], ["f)", 146, 948]];
  const pairs: [number, number][] = [[SECTION_LINES[0], SECTION_LINES[1]], [SECTION_LINES[2], SECTION_LINES[3]], [SECTION_LINES[4], SECTION_LINES[5]]];
  return (
    <svg width={W} height={H} style={{ position: "absolute", left: 0, top: 0, pointerEvents: "none" }} fontFamily={FONT}>
      <rect x={509} y={1} width={28} height={10} fill="#ffe5e5" stroke="#fbd3d3" />
      <text x={547} y={6.5} dominantBaseline="central" fontSize={13} fill="#000">Ice-Edge</text>
      <rect x={632} y={1} width={28} height={10} fill="#e9e9fb" stroke="#d6d6f6" />
      <text x={669} y={6.5} dominantBaseline="central" fontSize={13} fill="#000">Open Ocean</text>
      {AIR_MASS.map((name, i) => (
        <g key={name}>
          <rect x={LEGEND_X[i]} y={22} width={28} height={11} fill={AIR_MASS_COLORS[i]} />
          <text x={LEGEND_X[i] + 37} y={27.5} dominantBaseline="central" fontSize={13} fill="#000">{name}</text>
        </g>
      ))}
      {pairs.map(([a, b], i) => (
        <text key={SECTION_NAMES[i]} x={xOf((a + b) / 2)} y={85} textAnchor="middle" dominantBaseline="central" fontSize={13} fill="#000">{SECTION_NAMES[i]}</text>
      ))}
      {letters.map(([t, x, y]) => (
        <text key={t} x={x} y={y} dominantBaseline="central" fontSize={15.5} fontWeight="bold" fill="#000">{t}</text>
      ))}

      <VText x={64} y={162} color="#008000" size={11.5}>Ship</VText>
      <VText x={77.5} y={162} color="#008000" size={11.5}>Latitude (° N)</VText>
      <VText x={1135} y={162} color="#a52a2a" size={11.5}>Ship</VText>
      <VText x={1148.5} y={162} color="#a52a2a" size={11.5}>Longitude (° E)</VText>

      <VText x={79} y={329} color="#ff0000" size={11.5}>Air Temperature (K)</VText>
      <VText x={1135} y={328} color="#0000ff" size={11.5}>Water Temperature (K)</VText>

      <VText x={84} y={496} color="#32cd32" size={11.5}>Underway</VText>
      <VText x={99} y={496} color="#32cd32" size={11.5}>Fluorescence (μg L{sup("\u22121", 11.5)})</VText>
      <VText x={1125.5} y={496} color="#006400" size={11.5}>MODIS 12 hr</VText>
      <VText x={1140.5} y={496} color="#006400" size={11.5}>Cumulative Chl-a (μg m{sup("\u22123", 11.5)})</VText>

      <VText x={98} y={662} color="#000080" size={14}>DMS (ppb)</VText>
      <VText x={1131} y={663} color="#1e90ff" size={14}>DMSO (ppb)</VText>

      <VText x={72} y={831} color="#f08080" size={14.5}>MeSH:VMS</VText>
      <VText x={1131} y={830} color="#b22222" size={14}>MeSH (ppb)</VText>

      <VText x={84} y={997} color="#800080" size={11.5}>MSA (molecules cm{sup("\u22123", 11.5)})</VText>
      <VText x={1142} y={997} color="#ff0000" size={14}>SO{sub("4", 14)}{sup("2\u2212", 14)}(μg m{sup("\u22123", 14)})</VText>
      <VText x={1189} y={997} color="#ffa500" size={11.5}>H{sub("2", 11.5)}SO{sub("4", 11.5)} (molecules cm{sup("\u22123", 11.5)})</VText>

      <text x={133} y={926} fontSize={14} fill="#800080">1e8</text>
      <text x={1085} y={926} textAnchor="end" fontSize={14} fill="#ffa500">×10{sup("5", 14)}</text>

      <rect x={860.5} y={438.5} width={219} height={29} rx={3} fill="#ffffff" fillOpacity={0.85} stroke="#cccccc" />
      <polygon points="880,446.5 873.5,458.5 886.5,458.5" fill="#ffff00" stroke="#000" strokeWidth={1.2} />
      <text x={907} y={453} dominantBaseline="central" fontSize={14} fill="#000">Sfc Chl-a CTD (μg L{sup("\u22121", 14)})</text>
    </svg>
  );
}

const dotShape = (color: string) => (p: any) => <circle cx={p.cx} cy={p.cy} r={1.9} fill={color} />;
const triShape = (p: any) => (
  <polygon points={`${p.cx},${p.cy - 6.5} ${p.cx - 6.5},${p.cy + 5.5} ${p.cx + 6.5},${p.cy + 5.5}`} fill="#ffff00" stroke="#000" strokeWidth={1.2} />
);

export default function App() {
  const stripRows = STRIP.map(([a]) => ({ x: a, y: 0.5 }));
  return (
    <div style={{ position: "absolute", left: 0, top: 0, width: W, height: H, background: "#fff", fontFamily: FONT }}>
      {/* air-mass strip */}
      <div style={{ position: "absolute", left: 0, top: 45 }}>
        <ComposedChart width={W} height={22} data={stripRows} margin={{ top: 0, right: RIGHT_W, bottom: 0, left: PLOT_LEFT }}>
          <XAxis dataKey="x" type="number" domain={X_DOMAIN} allowDataOverflow hide />
          <YAxis type="number" domain={[0, 1]} allowDataOverflow hide />
          {STRIP.concat(STRIP_STRIPES).map(([a, b, c], i) => (
            <ReferenceArea key={`st${i}`} x1={a} x2={b} y1={0} y2={1} fill={AIR_MASS_COLORS[c]} fillOpacity={1} stroke="none" ifOverflow="visible" />
          ))}
          <Line dataKey="y" stroke="none" dot={false} activeDot={false} isAnimationActive={false} />
        </ComposedChart>
      </div>

      <Panel top={96.5} height={130.5}>
        {yAxis("l", "left", PLOT_LEFT, [-70, -30], [-70, -60, -50, -40, -30], "#008000", f0)}
        {yAxis("r", "right", RIGHT_W, [111.25, 153.5], [120, 140], "#a52a2a", f0)}
        {backdrop("l")}
        {series("lat", LAT, "l", "#008000", 4.5)}
        {series("lon", LON, "r", "#a52a2a", 4.5)}
        {sections("l")}
      </Panel>

      <Panel top={263} height={130.5}>
        {yAxis("l", "left", PLOT_LEFT, [264.3, 301.05], [270, 280, 290, 300], "#ff0000", f0)}
        {yAxis("r", "right", RIGHT_W, [270.2, 297.55], [280, 290], "#0000ff", f0)}
        {backdrop("l")}
        {series("air", AIR_T, "l", "#ff0000", 4.5)}
        {series("water", WATER_T, "r", "#0000ff", 4.5)}
        {sections("l")}
      </Panel>

      <Panel top={430.5} height={130.5}>
        {yAxis("l", "left", PLOT_LEFT, [-0.094, 6.01], [0, 2, 4, 6], "#32cd32", f0)}
        {yAxis("r", "right", RIGHT_W, [-0.39, 13.49], [0, 5, 10], "#006400", f0)}
        {backdrop("l")}
        {series("fluor", UNDERWAY_FLUOR, "l", "#32cd32", 3.5)}
        {series("modis", MODIS_CHL, "r", "#006400", 3)}
        <Scatter key="modisDots" data={rows(MODIS_SPARSE)} dataKey="y" yAxisId="r" shape={dotShape("#006400")} isAnimationActive={false} />
        {sections("l")}
        <Scatter key="ctd" data={rows(CTD_CHL)} dataKey="y" yAxisId="l" shape={triShape} isAnimationActive={false} />
      </Panel>

      <Panel top={597.5} height={130.5}>
        {yAxis("l", "left", PLOT_LEFT, [-0.276, 6.04], [0, 2, 4, 6], "#000080", f0)}
        {yAxis("r", "right", RIGHT_W, [-0.005, 1.006], [0, 0.5, 1], "#1e90ff", f1)}
        {backdrop("l")}
        {series("dms", DMS, "l", "#000080", 4.5)}
        {series("dmso", DMSO, "r", "#1e90ff", 4.5)}
        {sections("l")}
      </Panel>

      <Panel top={764.5} height={130.5}>
        {yAxis("l", "left", PLOT_LEFT, [-0.8, 0.805], [-0.5, 0, 0.5], "#f08080", f1)}
        {yAxis("r", "right", RIGHT_W, [-0.012, 0.2646], [0, 0.1, 0.2], "#b22222", f1)}
        {backdrop("l")}
        {series("meshvms", MESH_VMS, "l", "#f08080", 10)}
        {series("mesh", MESH, "r", "#b22222", 5)}
        {sections("l")}
      </Panel>

      <Panel top={931.5} height={130.5} dates>
        {yAxis("l", "left", PLOT_LEFT, [-0.076, 1.583], [0, 0.5, 1, 1.5], "#800080", f1)}
        {yAxis("r", "right", 73, [-0.051, 0.897], [0, 0.25, 0.5, 0.75], "#ff0000", f2)}
        {yAxis("s2", "right", RIGHT_W - 73, [-0.57, 10.01], [0, 5], "#ffa500", f0)}
        {backdrop("l")}
        {series("so4", SO4, "r", "#ff0000", 3.5)}
        {series("msa", MSA, "l", "#800080", 3.5)}
        {series("h2so4", H2SO4, "s2", "#ffa500", 3.5)}
        {sections("l")}
      </Panel>

      <Overlay />
    </div>
  );
}
